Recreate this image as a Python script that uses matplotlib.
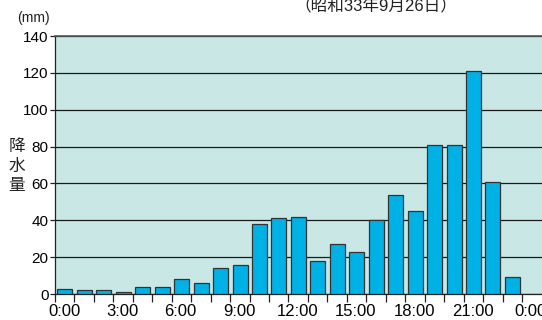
import matplotlib
matplotlib.use("Agg")
import matplotlib.pyplot as plt
import matplotlib.transforms as mtransforms

plt.rcParams['font.family'] = ['Liberation Sans', 'Noto Sans CJK JP', 'DejaVu Sans']

# hourly rainfall (mm), 0:00-1:00 through 23:00-24:00
hours = list(range(24))
rain_mm = [3, 2, 2, 1, 4, 4, 8, 6, 14, 16, 38, 41, 42, 18,
           27, 23, 40, 54, 45, 81, 81, 121, 61, 9]
tick_labels = ["0:00", "3:00", "6:00", "9:00", "12:00", "15:00",
               "18:00", "21:00", "0:00"]
y_ticks = [0, 20, 40, 60, 80, 100, 120, 140]

fig = plt.figure(figsize=(5.42, 3.2), dpi=100)
ax = fig.add_axes([0.1015, 0.081, 0.8985, 0.8065])
ax.set_facecolor("#c8e7e5")

ax.bar([h + 0.51 for h in hours], rain_mm, width=0.77, color="#00b1e6",
       edgecolor="#333333", linewidth=0.9, zorder=3)

ax.set_xlim(0, 25.03)
ax.set_ylim(0, 140)

ax.set_yticks(y_ticks)
ax.yaxis.grid(True, color="#1a1a1a", linewidth=0.9, zorder=1)
ax.set_axisbelow(True)

# a tick every hour, a label every third hour
ax.set_xticks(range(25))
ax.set_xticklabels([tick_labels[i // 3] if i % 3 == 0 else "" for i in range(25)])
ax.tick_params(axis="x", direction="out", length=5.8, width=0.9,
               color="#222222", labelsize=12, pad=1.5)
ax.tick_params(axis="y", direction="out", length=3.6, width=0.9,
               color="#222222", labelsize=11, pad=1.0)

# shift hour labels a little to the right of their tick marks
shift = mtransforms.ScaledTranslation(0.09, 0, fig.dpi_scale_trans)
for lbl in ax.get_xticklabels():
    lbl.set_transform(lbl.get_transform() + shift)

for side in ["left", "bottom"]:
    ax.spines[side].set_color("#222222")
    ax.spines[side].set_linewidth(0.9)
ax.spines["top"].set_color("#555555")
ax.spines["top"].set_linewidth(1.2)
ax.spines["right"].set_visible(False)

fig.text(33 / 542, 1 - 18 / 320, "(mm)", fontsize=10, ha="center",
         va="center", color="#222222")
fig.text(17 / 542, 1 - 166 / 320, "降\n水\n量", fontsize=12, ha="center",
         va="center", linespacing=1.4, color="#222222")
fig.text(376 / 542, 1 - 5 / 320, "（昭和33年9月26日）", fontsize=12,
         ha="center", va="center", color="#222222")

fig.savefig("out.png", dpi=100)
